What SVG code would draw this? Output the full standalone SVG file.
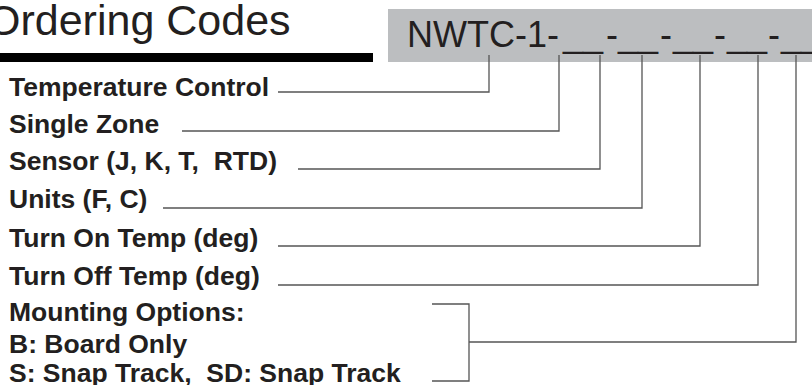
<svg xmlns="http://www.w3.org/2000/svg" width="812" height="385" viewBox="0 0 812 385">
<style>
.lbl{font-family:"Liberation Sans",Arial,sans-serif;font-weight:bold;font-size:26.5px;fill:#231f20;white-space:pre}
.title{font-family:"Liberation Sans",Arial,sans-serif;font-size:43px;fill:#231f20}
.code{font-family:"Liberation Sans",Arial,sans-serif;font-size:36px;fill:#231f20}
.conn{fill:none;stroke:#555;stroke-width:1.3}
</style>
<rect width="812" height="385" fill="#fff"/>
<g id="header">
<text class="title" x="-13" y="35">Ordering Codes</text>
<rect x="0" y="53" width="373" height="9" fill="#000"/>
<rect x="388" y="9" width="424" height="53" fill="#bcbec0"/>
<text class="code" y="47"><tspan x="407">NWTC-1-</tspan><tspan x="563">__</tspan><tspan x="606">-</tspan><tspan x="618">__</tspan><tspan x="660">-</tspan><tspan x="673">__</tspan><tspan x="714">-</tspan><tspan x="727">__</tspan><tspan x="768">-</tspan><tspan x="781">__</tspan></text>
</g>
<g id="n-temp"><text class="lbl" x="9" y="96">Temperature Control</text></g>
<g id="n-zone"><text class="lbl" x="9" y="133">Single Zone</text></g>
<g id="n-sensor"><text class="lbl" x="9" y="170">Sensor (J, K, T,  RTD)</text></g>
<g id="n-units"><text class="lbl" x="9" y="208">Units (F, C)</text></g>
<g id="n-on"><text class="lbl" x="9" y="247">Turn On Temp (deg)</text></g>
<g id="n-off"><text class="lbl" x="9" y="285">Turn Off Temp (deg)</text></g>
<g id="n-mount">
<text class="lbl" x="9" y="321">Mounting Options:</text>
<text class="lbl" x="9" y="353">B: Board Only</text>
<text class="lbl" x="9" y="382">S: Snap Track,  SD: Snap Track</text>
</g>
<g id="connectors">
<path class="conn" d="M278,92 H489 V55"/>
<path class="conn" d="M182,131 H559 V55"/>
<path class="conn" d="M298,169 H600 V55"/>
<path class="conn" d="M163,208 H642 V55"/>
<path class="conn" d="M278,246 H700 V55"/>
<path class="conn" d="M278,285 H758 V55"/>
<path class="conn" d="M432,304 H469 V381 H432"/>
<path class="conn" d="M469,342 H796 V55"/>
</g>
</svg>
